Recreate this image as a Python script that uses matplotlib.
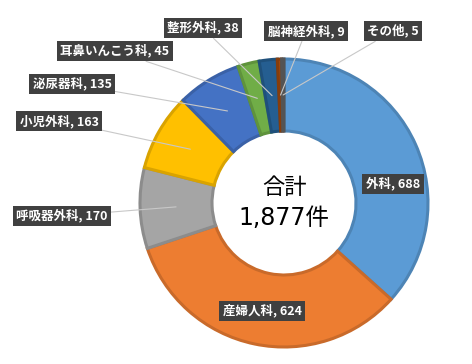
import matplotlib
matplotlib.use("Agg")
import matplotlib.pyplot as plt
import numpy as np
from matplotlib.colors import to_rgb

plt.rcParams['font.family'] = ['Noto Sans CJK JP', 'DejaVu Sans']

categories = ["外科", "産婦人科", "呼吸器外科", "小児外科", "泌尿器科",
              "耳鼻いんこう科", "整形外科", "脳神経外科", "その他"]
values = [688, 624, 170, 163, 135, 45, 38, 9, 5]
colors = ["#5B9BD5", "#ED7D31", "#A5A5A5", "#FFC000", "#4472C4",
          "#70AD47", "#255E91", "#9E480E", "#636363"]
total_label = "合計"
total_text = "{:,}件".format(sum(values))

# label box centres in pixel coords (layout)
label_px = [(393, 184), (262, 311), (62, 216), (59, 121), (72, 84),
            (115, 51), (203, 28), (306, 31), (393, 31)]
leader = [False, False, True, True, True, True, True, True, True]

W, H = 472, 364
cx, cy, R = 284, 203, 144

fig = plt.figure(figsize=(W / 100, H / 100), dpi=100)
ax = fig.add_axes([0, 0, 1, 1])


def darker(c, f=0.85):
    r, g, b = to_rgb(c)
    return (r * f, g * f, b * f)


wedges, _ = ax.pie(values, colors=colors, startangle=90, counterclock=False,
                   radius=1.0,
                   wedgeprops=dict(width=0.5, linewidth=2.5, edgecolor="white"))
for w, c in zip(wedges, colors):
    w.set_edgecolor(darker(c))
    w.set_linewidth(2.2)

def px2d(p):
    return ((p[0] - cx) / R, (cy - p[1]) / R)

cum = np.cumsum([0] + values)
tot = float(sum(values))
for i, (cat, v) in enumerate(zip(categories, values)):
    mid = (cum[i] + cum[i + 1]) / 2 / tot
    ang = np.deg2rad(90 - 360 * mid)
    xy = (0.75 * np.cos(ang), 0.75 * np.sin(ang))
    txt = f"{cat}, {v}"
    tpos = px2d(label_px[i])
    ap = dict(arrowstyle='-', color='#c8c8c8', lw=0.8, shrinkA=0, shrinkB=0) if leader[i] else None
    ax.annotate(txt, xy=xy, xytext=tpos, ha='center', va='center',
                fontsize=9, fontweight='bold', color='white',
                bbox=dict(boxstyle='square,pad=0.28', fc='#404040', ec='none'),
                arrowprops=ap, zorder=5)

ax.text(0, (cy - 187) / R, total_label, ha='center', va='center', fontsize=16, color='black')
ax.text(0, (cy - 218) / R, total_text, ha='center', va='center', fontsize=17, color='black',
        family=['DejaVu Sans', 'Noto Sans CJK JP'])

ax.set_xlim(-cx / R, (W - cx) / R)
ax.set_ylim((cy - H) / R, cy / R)
ax.set_aspect('auto')
ax.axis('off')

fig.savefig("out.png", dpi=100, facecolor='white')
